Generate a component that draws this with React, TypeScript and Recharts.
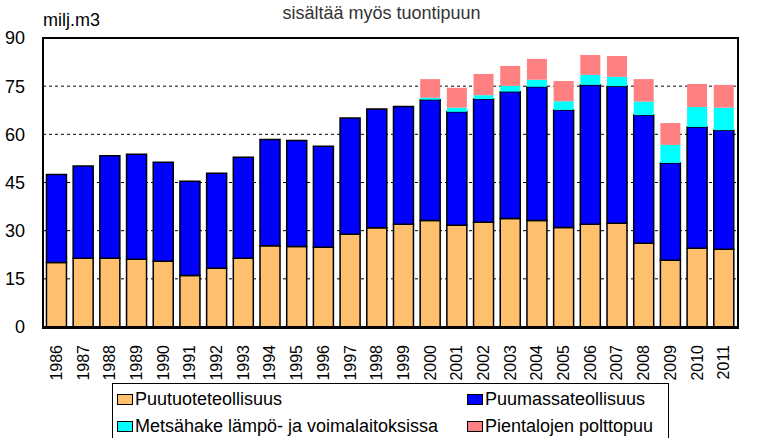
import React from 'react';
import { BarChart, Bar, XAxis, YAxis, CartesianGrid } from 'recharts';

const years = ['1986','1987','1988','1989','1990','1991','1992','1993','1994','1995','1996','1997','1998','1999','2000','2001','2002','2003','2004','2005','2006','2007','2008','2009','2010','2011'];
const puutuote = [20.1,21.4,21.4,21.1,20.5,16.0,18.3,21.4,25.3,25.1,24.8,28.9,30.9,32.0,33.2,31.7,32.6,33.8,33.2,31.0,32.0,32.3,26.1,20.8,24.5,24.2];
const puumassa = [27.4,28.7,31.9,32.7,30.8,29.4,29.6,31.5,33.1,33.0,31.5,36.2,37.0,36.7,37.6,35.3,38.4,39.5,41.6,36.6,43.4,42.7,39.9,30.3,37.8,37.1];
const metsahake = [0,0,0,0,0,0,0,0,0,0,0,0,0,0,0.6,1.3,1.2,1.8,2.2,2.7,3.1,2.9,4.2,5.6,6.2,7.0];
const pientalo = [0,0,0,0,0,0,0,0,0,0,0,0,0,0,5.8,6.2,6.6,6.2,6.5,6.3,6.2,6.5,7.0,6.8,7.2,7.1];
const yTicks = [0,15,30,45,60,75,90];

const seriesNames = ['Puutuoteteollisuus','Puumassateollisuus','Metsähake lämpö- ja voimalaitoksissa','Pientalojen polttopuu'];
const seriesColors = ['#FFC06E','#0000FF','#00FFFF','#FF8080'];

const data = years.map((y, i) => ({
  year: y,
  puutuote: puutuote[i],
  puumassa: puumassa[i],
  metsahake: metsahake[i],
  pientalo: pientalo[i],
}));

const FONT = "Arial, 'Liberation Sans', sans-serif";

const XTick = (props: any) => {
  const { x, y, payload } = props;
  return (
    <g transform={`translate(${x},${y})`}>
      <text transform="rotate(-90)" x={-10} y={0} dy="0.35em" textAnchor="end" fontSize={16} fill="#000" fontFamily={FONT}>
        {payload.value}
      </text>
    </g>
  );
};

const LegendItem = ({ left, top, color, label }: { left: number; top: number; color: string; label: string }) => (
  <div style={{ position: 'absolute', left, top, display: 'flex', alignItems: 'center', height: 20 }}>
    <div style={{ width: 14, height: 9, background: color, border: '1px solid #000', marginRight: 2 }} />
    <span style={{ fontSize: 18, lineHeight: '20px', color: '#000', whiteSpace: 'nowrap' }}>{label}</span>
  </div>
);

export default function App() {
  return (
    <div style={{ position: 'absolute', left: 0, top: 0, width: 763, height: 438, fontFamily: FONT, background: '#fff', overflow: 'hidden' }}>
      <div style={{ position: 'absolute', left: 0, top: 3, width: 763, textAlign: 'center', fontSize: 18, color: '#333' }}>
        sisältää myös tuontipuun
      </div>
      <div style={{ position: 'absolute', left: 43, top: 10, fontSize: 18, color: '#000' }}>milj.m3</div>
      <BarChart
        width={763}
        height={438}
        data={data}
        margin={{ top: 38, right: 26, bottom: 61, left: 0 }}
        barCategoryGap="13%"
      >
        <CartesianGrid vertical={false} stroke="#000" strokeDasharray="3 3" />
        <XAxis
          dataKey="year"
          interval={0}
          height={50}
          tick={<XTick />}
          tickLine={false}
          axisLine={{ stroke: '#000', strokeWidth: 2 }}
        />
        <YAxis
          domain={[0, 90]}
          ticks={yTicks}
          width={43}
          tickLine={false}
          tickMargin={12}
          tick={{ fontSize: 18, fill: '#000', fontFamily: FONT }}
          axisLine={{ stroke: '#000', strokeWidth: 2 }}
        />
        <Bar dataKey="puutuote" stackId="a" fill={seriesColors[0]} stroke="#000" strokeWidth={1.5} isAnimationActive={false} />
        <Bar dataKey="puumassa" stackId="a" fill={seriesColors[1]} stroke="#000" strokeWidth={1.5} isAnimationActive={false} />
        <Bar dataKey="metsahake" stackId="a" fill={seriesColors[2]} isAnimationActive={false} />
        <Bar dataKey="pientalo" stackId="a" fill={seriesColors[3]} isAnimationActive={false} />
      </BarChart>
      <div style={{ position: 'absolute', left: 42, top: 37, width: 693, height: 288, border: '2px solid #000', pointerEvents: 'none' }} />
      <div style={{ position: 'absolute', left: 112, top: 383, width: 555, height: 80, border: '1px solid #000', background: '#fff' }}>
        <LegendItem left={4} top={5} color={seriesColors[0]} label={seriesNames[0]} />
        <LegendItem left={354} top={5} color={seriesColors[1]} label={seriesNames[1]} />
        <LegendItem left={4} top={32} color={seriesColors[2]} label={seriesNames[2]} />
        <LegendItem left={354} top={32} color={seriesColors[3]} label={seriesNames[3]} />
      </div>
    </div>
  );
}
